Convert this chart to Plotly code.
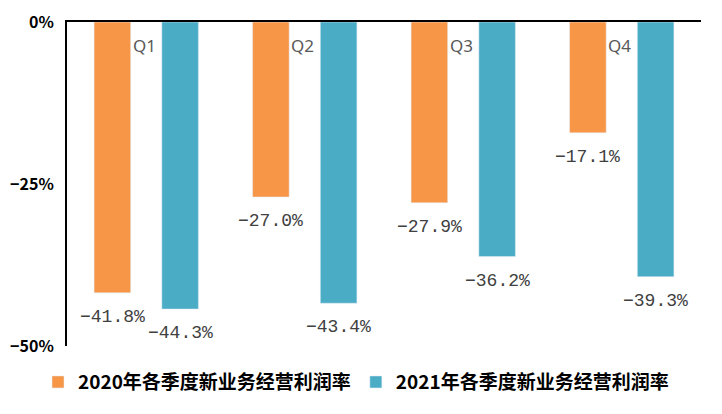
import plotly.graph_objects as go

quarters = ["Q1", "Q2", "Q3", "Q4"]
series_2020 = [-41.8, -27.0, -27.9, -17.1]
series_2021 = [-44.3, -43.4, -36.2, -39.3]
name_2020 = "2020年各季度新业务经营利润率"
name_2021 = "2021年各季度新业务经营利润率"
y_ticks = [0, -25, -50]
y_ticktext = ["0%", "\u221225%", "\u221250%"]

C2020 = "#F79646"
C2021 = "#4BACC6"

fig = go.Figure()
fig.add_trace(go.Bar(x=quarters, y=series_2020, name=name_2020, marker_color=C2020))
fig.add_trace(go.Bar(x=quarters, y=series_2021, name=name_2021, marker_color=C2021))

label_font = dict(family="Liberation Mono", size=18, color="#404040")
for vals, xs in ((series_2020, -34), (series_2021, 34)):
    for q, v in zip(quarters, vals):
        fig.add_annotation(x=q, y=v, text=f"\u2212{abs(v):.1f}%", showarrow=False,
                           xshift=xs, yshift=-24, font=label_font)

# category labels just under the top axis line
for q in quarters:
    fig.add_annotation(x=q, y=0, text=q, showarrow=False, yshift=-23, xshift=-2,
                       font=dict(family="Noto Sans", size=17, color="#595959"))

fig.update_layout(
    width=722, height=414,
    margin=dict(l=67, r=21, t=22, b=68, autoexpand=False),
    paper_bgcolor="white", plot_bgcolor="white",
    barmode="group", bargap=0.145, bargroupgap=0.46,
    showlegend=True,
    legend=dict(orientation="h", xref="container", yref="container",
                x=38 / 722, xanchor="left", y=0.077, yanchor="middle",
                font=dict(family="Noto Sans CJK SC", size=19, color="#000000", weight="bold"),
                tracegroupgap=0),
    xaxis=dict(side="top", showline=True, linecolor="black", linewidth=2,
               ticks="", showticklabels=False,
               showgrid=False, zeroline=False, automargin=False),
    yaxis=dict(range=[-50, 0], tickvals=y_ticks, ticktext=y_ticktext,
               showline=True, linecolor="black", linewidth=2,
               ticks="", ticklabelstandoff=8,
               tickfont=dict(family="Noto Sans CJK SC", size=16, color="#000000", weight="bold"),
               showgrid=False, zeroline=False, automargin=False),
)

fig.write_html("out.html", config={"displayModeBar": False},
               post_script="document.body.style.margin='0';")
